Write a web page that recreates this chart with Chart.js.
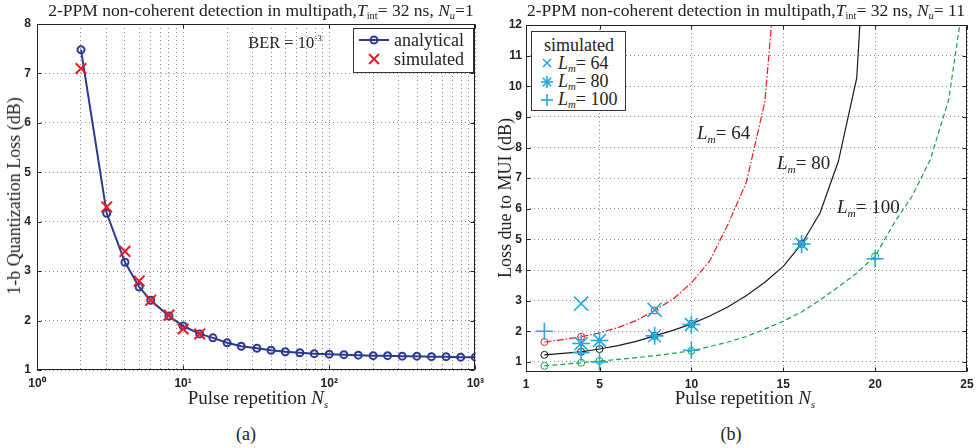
<!DOCTYPE html>
<html>
<head>
<meta charset="utf-8">
<script src="https://cdn.jsdelivr.net/npm/chart.js@4.4.1/dist/chart.umd.min.js"></script>
<style>
  body { margin:0; background:#fff; width:979px; height:448px; overflow:hidden; position:relative;
         font-family:'Liberation Serif','Times New Roman',serif; color:#222; }
  canvas { position:absolute; top:0; }
  .t { position:absolute; white-space:nowrap; font-size:18px; line-height:1; transform:translate(-50%,-50%); }
  .l { transform:translate(0,-50%); }
  .v { transform:translate(-50%,-50%) rotate(-90deg); }
  .t sub { font-size:0.6em; vertical-align:-0.3em; }
  .t sup { font-size:0.55em; vertical-align:0.75em; }
  .ttl { font-size:17.5px; }
  .box { position:absolute; border:1px solid #333; background:#fff; }
  .box svg { position:absolute; }
</style>
</head>
<body>
<canvas id="chartA" width="490" height="400" style="left:0"></canvas>
<canvas id="chartB" width="489" height="400" style="left:490px"></canvas>

<!-- titles -->
<div class="t ttl" style="left:261px;top:12px">2-PPM non-coherent detection in multipath,<i>T</i><sub>int</sub>= 32 ns, <i>N</i><sub><i>u</i></sub>=1</div>
<div class="t ttl" style="left:746px;top:12px">2-PPM non-coherent detection in multipath,<i>T</i><sub>int</sub>= 32 ns, <i>N</i><sub><i>u</i></sub>= 11</div>

<!-- axis labels -->
<div class="t v" style="left:14px;top:196px">1-b Quantization Loss (dB)</div>
<div class="t v" style="left:505px;top:198px">Loss due to MUI (dB)</div>
<div class="t" style="left:258px;top:399px;font-size:19px">Pulse repetition <i>N</i><sub><i>s</i></sub></div>
<div class="t" style="left:745px;top:399px;font-size:19px">Pulse repetition <i>N</i><sub><i>s</i></sub></div>

<!-- captions -->
<div class="t" style="left:246px;top:434px">(a)</div>
<div class="t" style="left:731px;top:434px">(b)</div>

<!-- panel (a) annotation + legend -->
<div class="t" style="left:285px;top:43px;font-size:16.5px">BER = 10<sup>-3</sup></div>
<div class="box" style="left:353px;top:28px;width:119px;height:43px">
  <svg width="40" height="43" style="left:0;top:0">
    <line x1="5" y1="11" x2="35" y2="11" stroke="#2b3990" stroke-width="2"/>
    <circle cx="20" cy="11" r="3.5" fill="none" stroke="#2b3990" stroke-width="2"/>
    <line x1="15" y1="25" x2="25" y2="35" stroke="#ed1c24" stroke-width="2"/>
    <line x1="25" y1="25" x2="15" y2="35" stroke="#ed1c24" stroke-width="2"/>
  </svg>
  <div class="t l" style="left:40px;top:11px">analytical</div>
  <div class="t l" style="left:40px;top:30px">simulated</div>
</div>

<!-- panel (b) legend + curve labels -->
<div class="box" style="left:531px;top:31px;width:93px;height:78px">
  <svg width="26" height="78" style="left:0;top:0">
    <g stroke="#1fa9e1" stroke-width="1.6">
      <line x1="11" y1="27" x2="19" y2="35"/><line x1="19" y1="27" x2="11" y2="35"/>
      <line x1="9" y1="50" x2="21" y2="50"/><line x1="15" y1="44" x2="15" y2="56"/>
      <line x1="10.8" y1="45.8" x2="19.2" y2="54.2"/><line x1="19.2" y1="45.8" x2="10.8" y2="54.2"/>
      <line x1="9" y1="68" x2="21" y2="68"/><line x1="15" y1="62" x2="15" y2="74"/>
    </g>
  </svg>
  <div class="t" style="left:47px;top:13px">simulated</div>
  <div class="t l" style="left:26px;top:32px"><i>L</i><sub><i>m</i></sub>= 64</div>
  <div class="t l" style="left:26px;top:50px"><i>L</i><sub><i>m</i></sub>= 80</div>
  <div class="t l" style="left:26px;top:68px"><i>L</i><sub><i>m</i></sub>= 100</div>
</div>
<div class="t l" style="left:697px;top:134px;font-size:19px"><i>L</i><sub><i>m</i></sub>= 64</div>
<div class="t l" style="left:777px;top:164px;font-size:19px"><i>L</i><sub><i>m</i></sub>= 80</div>
<div class="t l" style="left:837px;top:208px;font-size:19px"><i>L</i><sub><i>m</i></sub>= 100</div>

<script>
// ---- panel (a): 1-bit quantization loss vs Ns (log x) ----
const nsAnalytical   = [2, 3, 4, 5, 6, 8, 10, 13, 16, 20, 25, 32, 40, 50, 63, 79, 100, 126, 158, 200, 251, 316, 398, 501, 631, 794, 1000];
const lossAnalytical = [7.48, 4.17, 3.18, 2.68, 2.41, 2.09, 1.89, 1.73, 1.65, 1.55, 1.48, 1.44, 1.40, 1.37, 1.35, 1.33, 1.32, 1.31, 1.30, 1.29, 1.29, 1.28, 1.28, 1.27, 1.27, 1.26, 1.26];
const nsSimulated    = [2, 3, 4, 5, 6, 8, 10, 13];
const lossSimulated  = [7.1, 4.3, 3.4, 2.8, 2.41, 2.11, 1.83, 1.73];
const decadesA       = [1, 10, 100, 1000];
const yTicksA        = [1, 2, 3, 4, 5, 6, 7, 8];

// ---- panel (b): MUI loss vs Ns, one curve per Lm ----
const nsCurve  = [2, 3, 4, 5, 6, 7, 8, 9, 10, 11, 12, 13, 14, 15, 16, 17, 18, 19, 20, 21, 22, 23, 24, 25];
const loss64   = [1.65, 1.73, 1.82, 1.95, 2.12, 2.35, 2.68, 3.05, 3.58, 4.3, 5.5, 6.88, 9.5, 16.5];
const loss80   = [1.23, 1.28, 1.33, 1.42, 1.53, 1.67, 1.85, 2.03, 2.24, 2.5, 2.8, 3.17, 3.6, 4.12, 4.85, 5.86, 7.55, 10.27, 20.5];
const loss100  = [0.87, 0.92, 0.97, 1.03, 1.08, 1.14, 1.2, 1.28, 1.36, 1.5, 1.65, 1.83, 2.07, 2.33, 2.63, 3.02, 3.45, 3.9, 4.45, 5.5, 6.4, 7.6, 9.55, 13.6];
const circleNs64  = [2, 4, 8];
const circleNs80  = [2, 4, 5, 8, 10, 16];
const circleNs100 = [2, 4, 5, 10, 20];
const sim64Ns   = [4, 8];
const sim64Loss = [2.9, 2.7];
const sim80Ns   = [4, 5, 8, 10, 16];
const sim80Loss = [1.6, 1.7, 1.85, 2.22, 4.85];
const sim100Ns   = [2, 4, 5, 10, 20];
const sim100Loss = [2.0, 1.3, 1.0, 1.38, 4.37];
const xTicksB = [1, 5, 10, 15, 20, 25];
const yTicksB = [1, 2, 3, 4, 5, 6, 7, 8, 9, 10, 11, 12];

const BLUE = '#2b3990', RED = '#ed1c24', CYAN = '#1fa9e1', GREEN = '#16a34a', BLACK = '#1a1a1a';

Chart.defaults.font.family = "'Liberation Sans', Arial, sans-serif";
Chart.defaults.font.size = 12;
Chart.defaults.font.weight = 'bold';
Chart.defaults.color = '#222';

var pts = function (xs, ys) { return ys.map(function (y, i) { return { x: xs[i], y: y }; }); };
var SUP = { '0': '\u2070', '1': '\u00b9', '2': '\u00b2', '3': '\u00b3' };

// matlab-like box with inward ticks
const framePlugin = {
  id: 'frame',
  afterDraw: function (chart) {
    var ctx = chart.ctx, a = chart.chartArea;
    var L = Math.round(a.left) + 0.5, R = Math.round(a.right) - 0.5, T = Math.round(a.top) + 0.5, B = Math.round(a.bottom) - 0.5;
    ctx.save();
    ctx.strokeStyle = '#222'; ctx.lineWidth = 1; ctx.setLineDash([]);
    ctx.strokeRect(L, T, R - L, B - T);
    ctx.beginPath();
    chart.scales.x.ticks.forEach(function (t) {
      if (t.label === '') return;
      var p = Math.round(chart.scales.x.getPixelForValue(t.value)) + 0.5;
      ctx.moveTo(p, B); ctx.lineTo(p, B - 4); ctx.moveTo(p, T); ctx.lineTo(p, T + 4);
    });
    chart.scales.y.ticks.forEach(function (t) {
      var p = Math.round(chart.scales.y.getPixelForValue(t.value)) + 0.5;
      ctx.moveTo(L, p); ctx.lineTo(L + 4, p); ctx.moveTo(R, p); ctx.lineTo(R - 4, p);
    });
    ctx.stroke();
    ctx.restore();
  }
};

function gridOpts() {
  return { color: '#8a8a8a', lineWidth: 1, drawTicks: false };
}

// ---------- panel (a) ----------
var minorA = [];
decadesA.forEach(function (d, i) {
  if (i === decadesA.length - 1) { minorA.push(d); return; }
  for (var m = 1; m < 10; m++) minorA.push(d * m);
});

new Chart(document.getElementById('chartA'), {
  type: 'scatter',
  data: { datasets: [
    { label: 'simulated', data: pts(nsSimulated, lossSimulated), order: 0,
      pointStyle: 'crossRot', pointRadius: 7.5, pointBorderWidth: 2, borderColor: RED, backgroundColor: RED },
    { label: 'analytical', data: pts(nsAnalytical, lossAnalytical), order: 1, showLine: true,
      borderColor: BLUE, borderWidth: 2, pointStyle: 'circle', pointRadius: 3.5, pointBorderWidth: 2,
      pointBorderColor: BLUE, pointBackgroundColor: 'rgba(0,0,0,0)' }
  ]},
  options: {
    responsive: false, animation: false, events: [],
    layout: { padding: { top: 24, right: 12, left: 0, bottom: 0 } },
    plugins: { legend: { display: false }, tooltip: { enabled: false } },
    scales: {
      x: { type: 'logarithmic', min: 1, max: 1000,
           grid: gridOpts(), border: { display: false, dash: [1, 3] },
           afterBuildTicks: function (s) { s.ticks = minorA.map(function (v) { return { value: v }; }); },
           afterFit: function (s) { s.height = 30; },
           ticks: { autoSkip: false, maxRotation: 0, padding: 6,
             callback: function (v) {
               if (decadesA.indexOf(v) < 0) return '';
               return '10' + SUP[String(Math.round(Math.log10(v)))];
             } } },
      y: { min: 1, max: 8,
           grid: gridOpts(), border: { display: false, dash: [1, 3] },
           afterBuildTicks: function (s) { s.ticks = yTicksA.map(function (v) { return { value: v }; }); },
           afterFit: function (s) { s.width = 37; },
           ticks: { padding: 6 } }
    }
  },
  plugins: [framePlugin]
});

// ---------- panel (b) ----------
function curve(label, ys, color, dash, circles) {
  return { label: label, data: pts(nsCurve, ys), order: 1, showLine: true,
    borderColor: color, borderWidth: 1.2, borderDash: dash,
    pointStyle: 'circle', pointBorderColor: color, pointBorderWidth: 1, pointBackgroundColor: 'rgba(0,0,0,0)',
    pointRadius: function (c) { return circles.indexOf(nsCurve[c.dataIndex]) >= 0 ? 3.5 : 0; } };
}
function sim(label, xs, ys, style, r) {
  return { label: label, data: pts(xs, ys), order: 0, pointStyle: style, pointRadius: r,
    pointBorderWidth: 1.6, borderColor: CYAN, backgroundColor: CYAN };
}

new Chart(document.getElementById('chartB'), {
  type: 'scatter',
  data: { datasets: [
    sim('Lm = 64',  sim64Ns,  sim64Loss,  'crossRot', 10),
    sim('Lm = 80',  sim80Ns,  sim80Loss,  'star', 9),
    sim('Lm = 100', sim100Ns, sim100Loss, 'cross', 8.5),
    curve('Lm = 64',  loss64,  RED,   [7, 2, 1.5, 2], circleNs64),
    curve('Lm = 80',  loss80,  BLACK, [],             circleNs80),
    curve('Lm = 100', loss100, GREEN, [5, 3],         circleNs100)
  ]},
  options: {
    responsive: false, animation: false, events: [],
    layout: { padding: { top: 25, right: 12, left: 0, bottom: 0 } },
    plugins: { legend: { display: false }, tooltip: { enabled: false } },
    scales: {
      x: { type: 'linear', min: 1, max: 25,
           grid: gridOpts(), border: { display: false, dash: [1, 3] },
           afterBuildTicks: function (s) { s.ticks = xTicksB.map(function (v) { return { value: v }; }); },
           afterFit: function (s) { s.height = 28; },
           ticks: { autoSkip: false, maxRotation: 0, padding: 5 } },
      y: { min: 0.67, max: 12,
           grid: gridOpts(), border: { display: false, dash: [1, 3] },
           afterBuildTicks: function (s) { s.ticks = yTicksB.map(function (v) { return { value: v }; }); },
           afterFit: function (s) { s.width = 36; },
           ticks: { padding: 4 } }
    }
  },
  plugins: [framePlugin]
});
</script>
</body>
</html>
